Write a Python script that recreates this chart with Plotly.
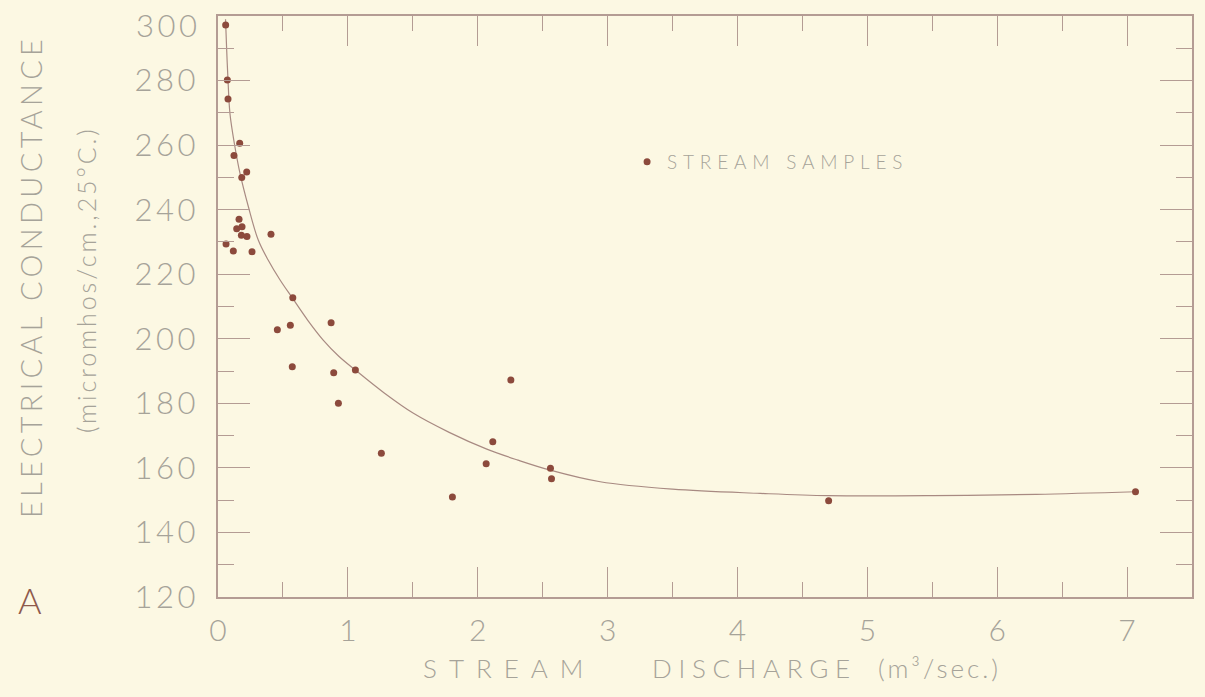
import plotly.graph_objects as go

# Stream samples (discharge m3/sec, conductance micromhos/cm at 25C)
sample_q = [0.059, 0.072, 0.077, 0.167, 0.123, 0.221, 0.183, 0.162, 0.185, 0.144,
            0.180, 0.223, 0.408, 0.062, 0.118, 0.262, 0.576, 0.457, 0.557, 0.871,
            0.572, 0.891, 1.058, 0.927, 1.258, 2.255, 2.116, 2.065, 1.805, 2.560,
            2.568, 4.702, 7.065]
sample_ec = [297.2, 280.2, 274.3, 260.6, 256.8, 251.7, 250.0, 237.0, 234.7, 234.1,
             232.1, 231.7, 232.4, 229.4, 227.2, 227.0, 212.7, 202.8, 204.2, 205.0,
             191.3, 189.5, 190.3, 180.0, 164.5, 187.2, 168.1, 161.3, 151.0, 159.9,
             156.6, 149.8, 152.6]

# Fitted curve
curve_q = [0.058, 0.067, 0.077, 0.092, 0.126, 0.169, 0.234, 0.31, 0.386, 0.478,
           0.575, 0.69, 0.81, 0.93, 1.058, 1.28, 1.505, 1.78, 2.07, 2.31, 2.558,
           2.943, 3.5, 4.176, 4.7, 5.5, 6.3, 7.065]
curve_ec = [299.0, 289.4, 280.2, 269.8, 260.5, 251.3, 240.9, 230.6, 224.4, 218.2,
            212.5, 205.8, 199.6, 194.6, 190.3, 183.2, 176.9, 171.0, 165.8, 162.4,
            159.3, 155.7, 153.4, 152.1, 151.4, 151.4, 151.8, 152.6]

x_ticks = [0, 1, 2, 3, 4, 5, 6, 7]
y_ticks = [120, 140, 160, 180, 200, 220, 240, 260, 280, 300]
y_top = 300

BG = "#fcf8e3"
TXT = "#a6a399"
FRAME = "#b49c94"
PT = "#8c4a3c"
FONT = "Lato"


def spaced(text, px):
    return "<span style='letter-spacing:%spx'>%s</span>" % (px, text)


fig = go.Figure()
fig.add_trace(go.Scatter(x=curve_q, y=curve_ec, mode="lines",
                         line=dict(color="#a88a82", width=1.2, shape="spline", smoothing=1.0),
                         showlegend=False, hoverinfo="skip"))
fig.add_trace(go.Scatter(x=sample_q, y=sample_ec, mode="markers", name=spaced("STREAM SAMPLES", 5.8),
                         marker=dict(color=PT, size=7)))

axis_common = dict(showgrid=False, zeroline=False, showline=True, linecolor=FRAME, linewidth=1.5,
                   mirror="ticks", ticks="inside", tickcolor=FRAME, tickwidth=1.3,
                   ticklabeloverflow="allow", automargin=False)
yfont = dict(family=FONT, size=31, color=TXT, weight=300)

NB = "\u00a0"
fig.update_layout(
    width=1205, height=697,
    margin=dict(l=218, r=13, t=16, b=100),
    paper_bgcolor=BG, plot_bgcolor=BG,
    xaxis=dict(range=[0, 7.5], tickvals=x_ticks, ticktext=[str(v) for v in x_ticks], ticklen=30,
               minor=dict(dtick=0.5, ticks="inside", ticklen=15, tickcolor=FRAME, tickwidth=1.3),
               ticklabelstandoff=6, tickfont=dict(family=FONT, size=30, color=TXT, weight=300),
               **axis_common),
    yaxis=dict(range=[120, 300], tickvals=y_ticks,
               ticktext=[spaced(v, 3.5) if v != y_top else "" for v in y_ticks], ticklen=32,
               minor=dict(dtick=10, ticks="inside", ticklen=16, tickcolor=FRAME, tickwidth=1.3),
               ticklabelstandoff=11, tickfont=yfont, **axis_common),
    legend=dict(x=0.42, y=0.749, xanchor="left", yanchor="middle", bgcolor="rgba(0,0,0,0)",
                font=dict(family=FONT, size=19, color=TXT, weight=300)),
    annotations=[
        dict(text=spaced("STREAM", 12) + NB * 8 + spaced("DISCHARGE", 6.7) + NB * 3 + spaced("(m³/sec.)", 3),
             xref="paper", yref="paper", x=(712 - 218) / 974, y=(597 - 668) / 581,
             xanchor="center", yanchor="middle", showarrow=False,
             font=dict(family=FONT, size=26, color=TXT, weight=300)),
        dict(text=spaced("ELECTRICAL CONDUCTANCE", 4.3), xref="paper", yref="paper", x=(30 - 218) / 974,
             y=(597 - 277) / 581, textangle=-90, xanchor="center", yanchor="middle", showarrow=False,
             font=dict(family=FONT, size=29, color=TXT, weight=300)),
        dict(text=spaced("(micromhos/cm.,25°C.)", 2.9), xref="paper", yref="paper", x=(86 - 218) / 974,
             y=(597 - 280) / 581, textangle=-90, xanchor="center", yanchor="middle", showarrow=False,
             font=dict(family=FONT, size=25, color=TXT, weight=300)),
        dict(text="A", xref="paper", yref="paper", x=(30 - 218) / 974, y=(597 - 600) / 581,
             xanchor="center", yanchor="middle", showarrow=False,
             font=dict(family=FONT, size=36, color="#8e5a4c", weight=300)),
        # top y label sits a little below the frame corner, as in the original drawing
        dict(text=spaced(y_top, 3.5), xref="paper", yref="y", x=(201.5 - 218) / 974, y=y_top,
             xanchor="right", yanchor="middle", yshift=-9, showarrow=False, font=yfont),
    ],
)

fig.write_html("out.html")
